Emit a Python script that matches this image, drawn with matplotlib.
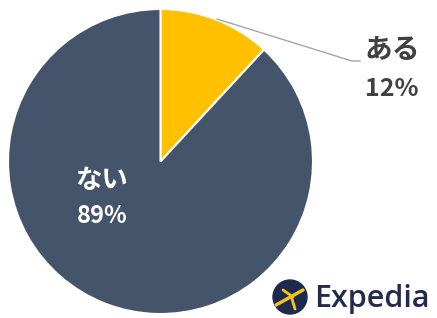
import numpy as np
import matplotlib.pyplot as plt
from matplotlib.patches import Circle

plt.rcParams['font.family'] = ['Noto Sans CJK JP', 'DejaVu Sans']

# %% Data
labels = ['ある', 'ない']
values = [12, 89]
colors = ['#FFC000', '#44546A']

# %% Figure
W, H = 437, 318
fig = plt.figure(figsize=(W / 100, H / 100), dpi=100)

# pie axes placed in pixel coordinates (square box)
cx, cy, r = 160.5, 161.5, 152.5
ax = fig.add_axes([(cx - r) / W, (H - cy - r) / H, 2 * r / W, 2 * r / H])
ax.pie(values, colors=colors, startangle=90, counterclock=False,
       wedgeprops=dict(edgecolor='white', linewidth=1.5), radius=1)
ax.set_xlim(-1, 1)
ax.set_ylim(-1, 1)
ax.set_aspect('auto')
ax.axis('off')

# overlay for labels, leader line and logo (pixel coords, y down)
ov = fig.add_axes([0, 0, 1, 1], zorder=5)
ov.set_xlim(0, W)
ov.set_ylim(H, 0)
ov.axis('off')

# outside label for first slice
ov.plot([217, 352, 360], [19, 61, 61], color='#A6A6A6', lw=1)
ov.text(392, 50, labels[0], ha='center', va='center', fontsize=20,
        fontweight='bold', color='#404040')
ov.text(392, 89, f'{values[0]}%', ha='center', va='center', fontsize=18,
        fontweight='bold', color='#404040')

# inside label for second slice
ov.text(102, 181, labels[1], ha='center', va='center', fontsize=19,
        fontweight='bold', color='white')
ov.text(102, 216, f'{values[1]}%', ha='center', va='center', fontsize=17,
        fontweight='bold', color='white')

# Expedia logo
ov.add_patch(Circle((290, 297), 17, color='#1E2A4D'))
yel = '#F5C518'
ov.plot([276, 303], [305, 290], color=yel, lw=2.4, solid_capstyle='round')
ov.plot([283, 293], [290, 297], color=yel, lw=2.0, solid_capstyle='round')
ov.plot([292, 295], [299, 309], color=yel, lw=2.0, solid_capstyle='round')
ov.text(314, 299, 'Expedia', ha='left', va='center', fontsize=22,
        color='#232B4D', fontweight='semibold',
        family=['Open Sans', 'DejaVu Sans'])

fig.savefig('out.png', dpi=100)
